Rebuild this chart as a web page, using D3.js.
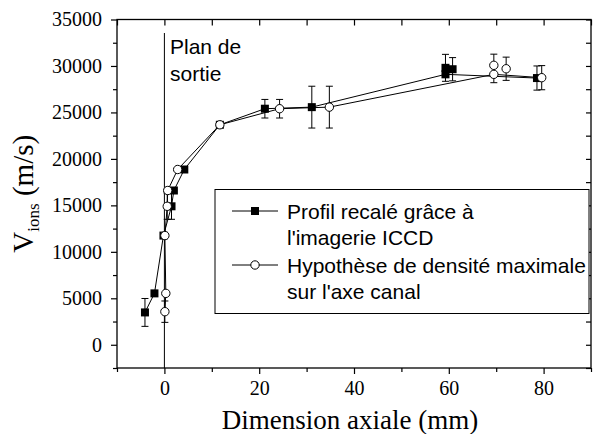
<!DOCTYPE html>
<html>
<head>
<meta charset="utf-8">
<script src="https://cdn.jsdelivr.net/npm/d3@7/dist/d3.min.js"></script>
<style>
  html, body { margin: 0; padding: 0; background: #fff; }
  svg { display: block; }
</style>
</head>
<body>
<svg id="chart" width="613" height="434"></svg>
<script>
// Profil recalé grâce à l'imagerie ICCD (points reliés)
const profilX   = [-4.1, -2.1, -0.2, 1.5, 2.0, 4.2, 11.7, 21.2, 31.1, 59.3, 78.6];
const profilV   = [3480, 5530, 11750, 14900, 16600, 18860, 23670, 25400, 25570, 29100, 28700];
const profilErr = [1500, 0, 0, 1400, 0, 0, 0, 1000, 2250, 0, 1300];
// mesures supplémentaires (sans trait)
const profilExtraX   = [59.3, 60.8];
const profilExtraV   = [29800, 29650];
const profilExtraErr = [1450, 1250];

// Hypothèse de densité maximale sur l'axe canal (points reliés)
const hypoX   = [0.1, 0.3, 0.1, 0.6, 0.7, 2.8, 11.7, 24.3, 34.8, 69.5, 79.6];
const hypoV   = [3560, 5530, 11750, 14900, 16600, 18860, 23670, 25400, 25570, 29100, 28740];
const hypoErr = [1150, 0, 0, 1400, 0, 0, 0, 1000, 2250, 900, 1300];
const hypoExtraX   = [69.5, 72.1];
const hypoExtraV   = [30070, 29700];
const hypoExtraErr = [1200, 1250];

const xMajorTicks = [0, 20, 40, 60, 80];
const xMinorTicks = [-10, 10, 30, 50, 70, 90];
const yMajorTicks = [0, 5000, 10000, 15000, 20000, 25000, 30000, 35000];
const yMinorTicks = [-2500, 2500, 7500, 12500, 17500, 22500, 27500, 32500];

const legendLabels = [
  ["Profil recalé grâce à", "l'imagerie ICCD"],
  ["Hypothèse de densité maximale", "sur l'axe canal"]
];
const exitPlaneLabel = ["Plan de", "sortie"];

const serif = "'Liberation Serif', 'Times New Roman', serif";
const sans = "'Liberation Sans', Arial, sans-serif";

const svg = d3.select("#chart");
const plotL = 117, plotR = 591, plotT = 19.5, plotB = 368;

const x = d3.scaleLinear().domain([-10, 90]).range([plotL, plotR]);
const y = d3.scaleLinear().domain([-2500, 35000]).range([plotB, plotT]);

const zip = (xs, vs, es) => xs.map((d, i) => ({ x: d, v: vs[i], e: es[i] }));
const profil = zip(profilX, profilV, profilErr);
const profilExtra = zip(profilExtraX, profilExtraV, profilExtraErr);
const hypo = zip(hypoX, hypoV, hypoErr);
const hypoExtra = zip(hypoExtraX, hypoExtraV, hypoExtraErr);

// exit plane reference line
svg.append("line")
  .attr("x1", x(0)).attr("x2", x(0))
  .attr("y1", 33).attr("y2", plotB)
  .attr("stroke", "#000").attr("stroke-width", 1);

const planText = svg.append("text")
  .attr("font-family", sans).attr("font-size", 21).attr("fill", "#000");
exitPlaneLabel.forEach((t, i) => {
  planText.append("tspan").attr("x", 170).attr("y", 54 + i * 26.5).text(t);
});

// axes
function styleAxis(g) {
  g.select(".domain").remove();
  g.selectAll("line").attr("stroke", "#000").attr("stroke-width", 1.2);
  g.selectAll("text").attr("font-family", serif).attr("font-size", 20).attr("fill", "#000");
}

svg.append("g").attr("transform", `translate(0,${plotB})`)
  .call(d3.axisBottom(x).tickValues(xMajorTicks).tickSize(6).tickPadding(7).tickFormat(d3.format("d")))
  .call(styleAxis);
svg.append("g").attr("transform", `translate(0,${plotB})`)
  .call(d3.axisBottom(x).tickValues(xMinorTicks).tickSize(4).tickFormat(""))
  .call(styleAxis);
svg.append("g").attr("transform", `translate(0,${plotT})`)
  .call(d3.axisBottom(x).tickValues(xMajorTicks.concat(xMinorTicks)).tickSize(6).tickFormat(""))
  .call(styleAxis);

svg.append("g").attr("transform", `translate(${plotL},0)`)
  .call(d3.axisLeft(y).tickValues(yMajorTicks).tickSize(6).tickPadding(9).tickFormat(d3.format("d")))
  .call(styleAxis);
svg.append("g").attr("transform", `translate(${plotL},0)`)
  .call(d3.axisLeft(y).tickValues(yMinorTicks).tickSize(4).tickFormat(""))
  .call(styleAxis);
svg.append("g").attr("transform", `translate(${plotR},0)`)
  .call(d3.axisLeft(y).tickValues(yMajorTicks.concat(yMinorTicks)).tickSize(5).tickFormat(""))
  .call(styleAxis);

svg.append("rect")
  .attr("x", plotL).attr("y", plotT)
  .attr("width", plotR - plotL).attr("height", plotB - plotT)
  .attr("fill", "none").attr("stroke", "#000").attr("stroke-width", 1.3);

// axis titles
svg.append("text")
  .attr("x", 350).attr("y", 429)
  .attr("text-anchor", "middle")
  .attr("font-family", serif).attr("font-size", 27).attr("fill", "#000")
  .text("Dimension axiale (mm)");

const yTitle = svg.append("text")
  .attr("transform", `translate(33,${(plotT + plotB) / 2}) rotate(-90)`)
  .attr("text-anchor", "middle")
  .attr("font-family", serif).attr("font-size", 29).attr("fill", "#000");
yTitle.append("tspan").text("V");
yTitle.append("tspan").attr("font-size", 17).attr("dy", 6).text("ions");
yTitle.append("tspan").attr("dy", -6).text(" (m/s)");

// series
const line = d3.line().x(d => x(d.x)).y(d => y(d.v));
[profil, hypo].forEach(s => {
  svg.append("path").datum(s)
    .attr("d", line)
    .attr("fill", "none").attr("stroke", "#000").attr("stroke-width", 1);
});

function errorBars(data) {
  const g = svg.append("g").attr("stroke", "#000").attr("stroke-width", 1);
  const withErr = data.filter(d => d.e > 0);
  g.selectAll(".v").data(withErr).join("line")
    .attr("x1", d => x(d.x)).attr("x2", d => x(d.x))
    .attr("y1", d => y(d.v - d.e)).attr("y2", d => y(d.v + d.e));
  g.selectAll(".t").data(withErr).join("line")
    .attr("x1", d => x(d.x) - 3.5).attr("x2", d => x(d.x) + 3.5)
    .attr("y1", d => y(d.v + d.e)).attr("y2", d => y(d.v + d.e));
  g.selectAll(".b").data(withErr).join("line")
    .attr("x1", d => x(d.x) - 3.5).attr("x2", d => x(d.x) + 3.5)
    .attr("y1", d => y(d.v - d.e)).attr("y2", d => y(d.v - d.e));
}
errorBars(profil.concat(profilExtra));
errorBars(hypo.concat(hypoExtra));

function squares(data) {
  svg.append("g").selectAll("rect").data(data).join("rect")
    .attr("x", d => x(d.x) - 4).attr("y", d => y(d.v) - 4)
    .attr("width", 8).attr("height", 8)
    .attr("fill", "#000");
}
function circles(data) {
  svg.append("g").selectAll("circle").data(data).join("circle")
    .attr("cx", d => x(d.x)).attr("cy", d => y(d.v)).attr("r", 4.2)
    .attr("fill", "#fff").attr("stroke", "#000").attr("stroke-width", 1);
}
squares(profil.concat(profilExtra));
circles(hypo.concat(hypoExtra));

// legend
const lg = svg.append("g");
lg.append("rect")
  .attr("x", 215).attr("y", 189.5).attr("width", 374).attr("height", 124)
  .attr("fill", "#fff").attr("stroke", "#000").attr("stroke-width", 1);
const legendRowY = [211, 265];
legendLabels.forEach((lines, i) => {
  const cy = legendRowY[i];
  lg.append("line").attr("x1", 232).attr("x2", 278).attr("y1", cy).attr("y2", cy)
    .attr("stroke", "#000").attr("stroke-width", 1);
  if (i === 0) {
    lg.append("rect").attr("x", 251).attr("y", cy - 4).attr("width", 8).attr("height", 8).attr("fill", "#000");
  } else {
    lg.append("circle").attr("cx", 255).attr("cy", cy).attr("r", 4.2)
      .attr("fill", "#fff").attr("stroke", "#000").attr("stroke-width", 1);
  }
  const t = lg.append("text").attr("font-family", sans).attr("font-size", 21).attr("fill", "#000");
  lines.forEach((s, j) => {
    t.append("tspan").attr("x", 287).attr("y", cy + 7.5 + j * 26.5).text(s);
  });
});
</script>
</body>
</html>
